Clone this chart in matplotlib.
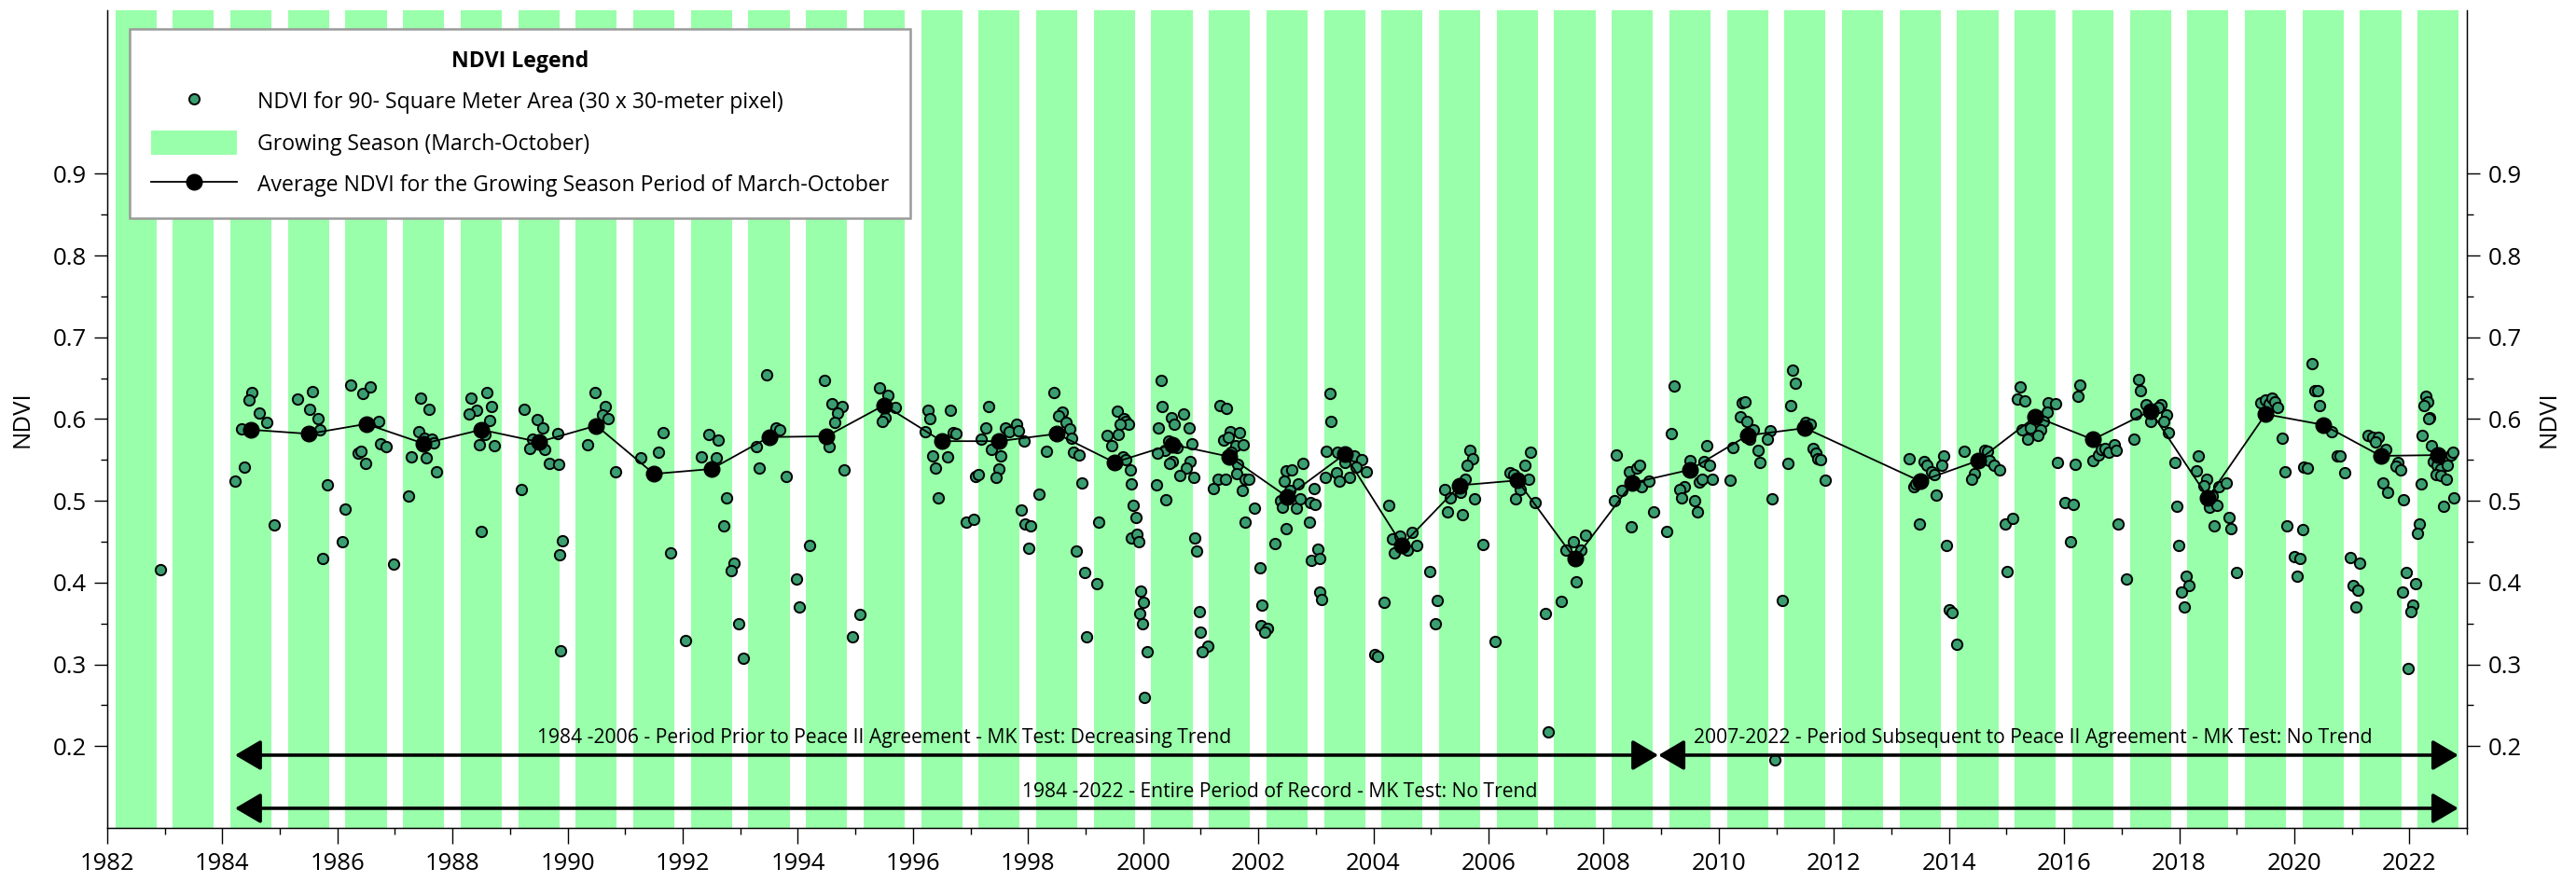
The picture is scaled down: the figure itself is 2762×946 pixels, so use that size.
import matplotlib
matplotlib.use("Agg")
import matplotlib.pyplot as plt
from matplotlib.lines import Line2D
from matplotlib.patches import Patch
from matplotlib.ticker import MultipleLocator, FixedLocator, FormatStrFormatter

plt.rcParams['font.family'] = ['Open Sans', 'DejaVu Sans']

# ---------------- data ----------------
band_years = list(range(1982, 2023))          # growing-season bands (March-October)

avg_year = [1984.5, 1985.5, 1986.5, 1987.5, 1988.5, 1989.5, 1990.5, 1991.5, 1992.5,
            1993.5, 1994.5, 1995.5, 1996.5, 1997.5, 1998.5, 1999.5, 2000.5, 2001.5,
            2002.5, 2003.5, 2004.5, 2005.5, 2006.5, 2007.5, 2008.5, 2009.5, 2010.5,
            2011.5, 2013.5, 2014.5, 2015.5, 2016.5, 2017.5, 2018.5, 2019.5, 2020.5,
            2021.5, 2022.5]
avg_ndvi = [0.587, 0.582, 0.594, 0.570, 0.587, 0.572, 0.592, 0.533, 0.539,
            0.578, 0.579, 0.617, 0.573, 0.573, 0.582, 0.547, 0.569, 0.554,
            0.505, 0.557, 0.446, 0.519, 0.525, 0.429, 0.522, 0.538, 0.580,
            0.589, 0.524, 0.549, 0.603, 0.575, 0.610, 0.504, 0.606, 0.593,
            0.555, 0.556]

obs_date = [
    1982.918,
    1984.512, 1984.468, 1984.647, 1984.771, 1984.333, 1984.387, 1984.220, 1984.906,
    1985.300, 1985.565, 1985.522, 1985.657, 1985.695, 1985.830, 1985.743,
    1986.229, 1986.440, 1986.575, 1986.710, 1986.743, 1986.840, 1986.359, 1986.408, 1986.489, 1986.138, 1986.089, 1986.969,
    1987.450, 1987.585, 1987.407, 1987.504, 1987.634, 1987.677, 1987.278, 1987.537, 1987.715, 1987.234,
    1988.326, 1988.590, 1988.417, 1988.282, 1988.682, 1988.639, 1988.563, 1988.461, 1988.725, 1988.504,
    1989.249, 1989.471, 1989.563, 1989.384, 1989.341, 1989.606, 1989.682, 1989.838, 1989.822, 1989.201, 1989.909, 1989.860, 1989.881,
    1990.476, 1990.654, 1990.605, 1990.697, 1990.346, 1990.827,
    1991.264, 1991.572, 1991.664, 1991.794,
    1992.053, 1992.453, 1992.620, 1992.318, 1992.582, 1992.755, 1992.706, 1992.885, 1992.842, 1992.972,
    1993.058, 1993.452, 1993.625, 1993.679, 1993.279, 1993.323, 1993.803, 1993.982,
    1994.025, 1994.203, 1994.462, 1994.598, 1994.776, 1994.684, 1994.635, 1994.549, 1994.808, 1994.943,
    1995.078, 1995.424, 1995.559, 1995.694, 1995.521, 1995.467,
    1996.261, 1996.299, 1996.650, 1996.213, 1996.704, 1996.747, 1996.348, 1996.607, 1996.391, 1996.440, 1996.920,
    1997.050, 1997.315, 1997.261, 1997.612, 1997.666, 1997.795, 1997.838, 1997.185, 1997.358, 1997.530, 1997.493, 1997.444, 1997.082, 1997.141, 1997.930, 1997.881, 1997.951,
    1998.043, 1998.011, 1998.184, 1998.448, 1998.589, 1998.524, 1998.664, 1998.724, 1998.756, 1998.789, 1998.886, 1998.319, 1998.929, 1998.843, 1998.978,
    1999.232, 1999.194, 1999.021, 1999.545, 1999.658, 1999.701, 1999.745, 1999.593, 1999.367, 1999.572, 1999.453, 1999.647, 1999.690, 1999.772, 1999.788, 1999.826, 1999.869, 1999.799, 1999.896, 1999.923, 1999.961, 1999.939, 1999.982,
    2000.004, 2000.074, 2000.026, 2000.306, 2000.333, 2000.485, 2000.539, 2000.706, 2000.793, 2000.263, 2000.841, 2000.447, 2000.582, 2000.382, 2000.247, 2000.501, 2000.452, 2000.820, 2000.749, 2000.641, 2000.879, 2000.231, 2000.398, 2000.895, 2000.922, 2000.971, 2000.987,
    2001.122, 2001.030, 2001.338, 2001.452, 2001.511, 2001.668, 2001.398, 2001.484, 2001.603, 2001.738, 2001.527, 2001.646, 2001.624, 2001.770, 2001.835, 2001.300, 2001.430, 2001.214, 2001.722, 2001.932, 2001.776,
    2002.024, 2002.068, 2002.040, 2002.154, 2002.105, 2002.284, 2002.489, 2002.586, 2002.770, 2002.456, 2002.694, 2002.543, 2002.381, 2002.413, 2002.656, 2002.726, 2002.483, 2002.970, 2002.905, 2002.986, 2002.894, 2002.927,
    2003.029, 2003.062, 2003.067, 2003.094, 2003.251, 2003.267, 2003.181, 2003.375, 2003.661, 2003.796, 2003.499, 2003.705, 2003.883, 2003.359, 2003.407, 2003.580, 2003.159,
    2004.023, 2004.066, 2004.185, 2004.272, 2004.326, 2004.461, 2004.677, 2004.364, 2004.596, 2004.758, 2004.974,
    2005.115, 2005.071, 2005.682, 2005.730, 2005.628, 2005.595, 2005.244, 2005.336, 2005.509, 2005.282, 2005.552, 2005.763, 2005.903,
    2006.119, 2006.730, 2006.638, 2006.692, 2006.373, 2006.433, 2006.557, 2006.476, 2006.816, 2006.994,
    2007.037, 2007.259, 2007.518, 2007.351, 2007.481, 2007.605, 2007.691,
    2008.221, 2008.442, 2008.572, 2008.626, 2008.313, 2008.183, 2008.658, 2008.793, 2008.485, 2008.874,
    2009.101, 2009.231, 2009.182, 2009.496, 2009.409, 2009.317, 2009.361, 2009.582, 2009.625, 2009.668, 2009.712, 2009.798, 2009.750, 2009.847, 2009.890,
    2010.192, 2010.241, 2010.409, 2010.463, 2010.371, 2010.495, 2010.597, 2010.538, 2010.679, 2010.722, 2010.900, 2010.851, 2010.932, 2010.981,
    2011.111, 2011.289, 2011.338, 2011.246, 2011.505, 2011.586, 2011.646, 2011.683, 2011.727, 2011.775, 2011.856, 2011.202,
    2013.309, 2013.563, 2013.617, 2013.698, 2013.747, 2013.396, 2013.428, 2013.785, 2013.482, 2013.914, 2013.877, 2013.963,
    2014.006, 2014.050, 2014.141, 2014.266, 2014.617, 2014.665, 2014.438, 2014.401, 2014.709, 2014.790, 2014.887, 2014.973,
    2015.098, 2015.016, 2015.233, 2015.184, 2015.319, 2015.724, 2015.848, 2015.713, 2015.638, 2015.276, 2015.411, 2015.589, 2015.541, 2015.362, 2015.886,
    2016.021, 2016.156, 2016.113, 2016.194, 2016.280, 2016.243, 2016.502, 2016.589, 2016.643, 2016.718, 2016.772, 2016.869, 2016.907, 2016.945,
    2017.075, 2017.296, 2017.334, 2017.242, 2017.210, 2017.420, 2017.680, 2017.637, 2017.777, 2017.723, 2017.512, 2017.815, 2017.922, 2017.960, 2017.992,
    2018.122, 2018.176, 2018.041, 2018.084, 2018.338, 2018.300, 2018.478, 2018.430, 2018.694, 2018.824, 2018.581, 2018.522, 2018.657, 2018.603, 2018.867, 2018.905,
    2019.002, 2019.424, 2019.505, 2019.559, 2019.613, 2019.656, 2019.705, 2019.786, 2019.834, 2019.877, 2019.996,
    2020.056, 2020.093, 2020.142, 2020.164, 2020.229, 2020.315, 2020.353, 2020.401, 2020.439, 2020.655, 2020.742, 2020.796, 2020.882, 2020.969,
    2021.141, 2021.023, 2021.104, 2021.061, 2021.277, 2021.358, 2021.450, 2021.406, 2021.595, 2021.800, 2021.763, 2021.844, 2021.547, 2021.622, 2021.898, 2021.936, 2021.887, 2021.984,
    2022.114, 2022.065, 2022.022, 2022.163, 2022.136, 2022.292, 2022.314, 2022.260, 2022.357, 2022.325, 2022.217, 2022.389, 2022.422, 2022.476, 2022.541, 2022.649, 2022.719, 2022.757, 2022.465, 2022.551, 2022.638, 2022.200, 2022.595, 2022.773,
]
obs_ndvi = [
    0.416,
    0.633, 0.623, 0.607, 0.596, 0.588, 0.541, 0.524, 0.471,
    0.624, 0.634, 0.612, 0.600, 0.587, 0.520, 0.429,
    0.642, 0.631, 0.639, 0.597, 0.570, 0.566, 0.558, 0.561, 0.546, 0.490, 0.450, 0.423,
    0.626, 0.612, 0.585, 0.577, 0.575, 0.571, 0.554, 0.553, 0.536, 0.506,
    0.626, 0.633, 0.611, 0.606, 0.615, 0.598, 0.581, 0.569, 0.567, 0.463,
    0.612, 0.599, 0.589, 0.575, 0.564, 0.563, 0.546, 0.545, 0.582, 0.514, 0.451, 0.434, 0.317,
    0.633, 0.615, 0.605, 0.600, 0.569, 0.536,
    0.553, 0.559, 0.584, 0.436,
    0.329, 0.581, 0.574, 0.554, 0.553, 0.504, 0.469, 0.424, 0.415, 0.350,
    0.308, 0.654, 0.589, 0.587, 0.566, 0.540, 0.530, 0.405,
    0.370, 0.445, 0.647, 0.619, 0.615, 0.607, 0.596, 0.566, 0.538, 0.334,
    0.361, 0.638, 0.629, 0.614, 0.602, 0.597,
    0.611, 0.601, 0.611, 0.585, 0.584, 0.582, 0.555, 0.554, 0.540, 0.504, 0.474,
    0.477, 0.615, 0.589, 0.589, 0.585, 0.594, 0.586, 0.576, 0.563, 0.555, 0.539, 0.529, 0.530, 0.532, 0.573, 0.489, 0.472,
    0.470, 0.442, 0.508, 0.632, 0.609, 0.604, 0.596, 0.588, 0.577, 0.560, 0.556, 0.561, 0.522, 0.439, 0.412,
    0.474, 0.399, 0.334, 0.610, 0.601, 0.597, 0.594, 0.594, 0.580, 0.581, 0.568, 0.554, 0.550, 0.538, 0.521, 0.494, 0.480, 0.455, 0.459, 0.450, 0.390, 0.362, 0.350,
    0.376, 0.315, 0.260, 0.647, 0.615, 0.602, 0.594, 0.606, 0.589, 0.589, 0.570, 0.573, 0.565, 0.562, 0.558, 0.548, 0.546, 0.548, 0.540, 0.531, 0.529, 0.520, 0.501, 0.455, 0.439, 0.364, 0.340,
    0.322, 0.315, 0.617, 0.613, 0.585, 0.584, 0.574, 0.578, 0.568, 0.569, 0.560, 0.545, 0.533, 0.526, 0.526, 0.527, 0.526, 0.515, 0.513, 0.491, 0.474,
    0.418, 0.373, 0.347, 0.344, 0.339, 0.448, 0.537, 0.538, 0.546, 0.524, 0.521, 0.513, 0.500, 0.492, 0.491, 0.502, 0.466, 0.515, 0.498, 0.496, 0.474, 0.427,
    0.441, 0.430, 0.389, 0.379, 0.631, 0.597, 0.561, 0.559, 0.555, 0.550, 0.547, 0.541, 0.536, 0.534, 0.524, 0.529, 0.529,
    0.312, 0.310, 0.376, 0.495, 0.454, 0.457, 0.461, 0.436, 0.440, 0.445, 0.413,
    0.378, 0.350, 0.562, 0.552, 0.544, 0.526, 0.514, 0.504, 0.511, 0.487, 0.483, 0.502, 0.447,
    0.328, 0.560, 0.543, 0.526, 0.534, 0.532, 0.514, 0.502, 0.498, 0.362,
    0.218, 0.377, 0.401, 0.440, 0.450, 0.440, 0.458,
    0.556, 0.535, 0.540, 0.543, 0.513, 0.500, 0.517, 0.524, 0.468, 0.487,
    0.463, 0.641, 0.582, 0.549, 0.517, 0.514, 0.504, 0.500, 0.486, 0.523, 0.526, 0.567, 0.548, 0.543, 0.527,
    0.525, 0.565, 0.620, 0.621, 0.603, 0.597, 0.587, 0.575, 0.562, 0.547, 0.586, 0.575, 0.503, 0.183,
    0.378, 0.660, 0.644, 0.616, 0.596, 0.594, 0.564, 0.558, 0.552, 0.550, 0.525, 0.546,
    0.551, 0.548, 0.543, 0.535, 0.532, 0.517, 0.521, 0.507, 0.472, 0.555, 0.544, 0.445,
    0.367, 0.363, 0.325, 0.561, 0.562, 0.561, 0.533, 0.527, 0.549, 0.543, 0.538, 0.472,
    0.479, 0.414, 0.639, 0.625, 0.622, 0.620, 0.619, 0.609, 0.597, 0.587, 0.589, 0.587, 0.580, 0.575, 0.547,
    0.498, 0.496, 0.450, 0.545, 0.642, 0.628, 0.549, 0.556, 0.563, 0.564, 0.559, 0.569, 0.562, 0.472,
    0.405, 0.649, 0.635, 0.606, 0.575, 0.618, 0.618, 0.614, 0.605, 0.597, 0.597, 0.584, 0.547, 0.493, 0.446,
    0.408, 0.396, 0.389, 0.370, 0.555, 0.537, 0.527, 0.518, 0.517, 0.522, 0.506, 0.492, 0.494, 0.470, 0.480, 0.466,
    0.412, 0.620, 0.623, 0.619, 0.626, 0.621, 0.614, 0.577, 0.535, 0.469, 0.432,
    0.408, 0.430, 0.465, 0.541, 0.540, 0.668, 0.635, 0.635, 0.617, 0.585, 0.555, 0.555, 0.534, 0.431,
    0.424, 0.397, 0.391, 0.370, 0.580, 0.578, 0.578, 0.572, 0.563, 0.547, 0.542, 0.538, 0.522, 0.511, 0.501, 0.412, 0.388, 0.295,
    0.399, 0.373, 0.364, 0.472, 0.460, 0.628, 0.621, 0.617, 0.602, 0.601, 0.580, 0.567, 0.548, 0.544, 0.539, 0.544, 0.556, 0.560, 0.532, 0.531, 0.527, 0.521, 0.493, 0.504,
]

x_ticks = list(range(1982, 2023, 2))
y_ticks = [0.2, 0.3, 0.4, 0.5, 0.6, 0.7, 0.8, 0.9]
y_minor = [0.25, 0.35, 0.45, 0.55, 0.65, 0.75, 0.85]

period_start, period_split, period_end = 1984.22, 2008.95, 2022.85
ann_texts = ["1984 -2006 - Period Prior to Peace II Agreement - MK Test: Decreasing Trend",
             "2007-2022 - Period Subsequent to Peace II Agreement - MK Test: No Trend",
             "1984 -2022 - Entire Period of Record - MK Test: No Trend"]

legend_labels = ["NDVI for 90- Square Meter Area (30 x 30-meter pixel)",
                 "Growing Season (March-October)",
                 "Average NDVI for the Growing Season Period of March-October"]

# ---------------- style ----------------
BAND = '#99FFAA'
DOT = '#3A9E70'
FS = 18.5
LFS = 16.6
AFS = 15.2

fig = plt.figure(figsize=(27.62, 9.46), dpi=100)
ax = fig.add_axes([0.0416, 0.0613, 0.9161, 0.9271])

for y in band_years:
    ax.axvspan(y + 0.14, y + 0.855, color=BAND, lw=0, zorder=0)

ax.scatter(obs_date, obs_ndvi, s=66, c=DOT, edgecolors='black', linewidths=1.4, zorder=3)
ax.plot(avg_year, avg_ndvi, color='black', lw=1.3, marker='o', ms=12, zorder=4)

arrow_kw = dict(arrowstyle='<|-|>,head_length=0.85,head_width=0.5', color='black', lw=2.6,
                shrinkA=0, shrinkB=0, mutation_scale=20)
y_up, y_low = 0.189, 0.124
ax.annotate('', xy=(period_split, y_up), xytext=(period_start, y_up), arrowprops=arrow_kw, zorder=5)
ax.annotate('', xy=(period_end, y_up), xytext=(period_split, y_up), arrowprops=arrow_kw, zorder=5)
ax.annotate('', xy=(period_end, y_low), xytext=(period_start, y_low), arrowprops=arrow_kw, zorder=5)

ax.text(1995.50, 0.2035, ann_texts[0], ha='center', va='baseline', fontsize=AFS, zorder=6)
ax.text(2015.46, 0.2035, ann_texts[1], ha='center', va='baseline', fontsize=AFS, zorder=6)
ax.text(2002.38, 0.1375, ann_texts[2], ha='center', va='baseline', fontsize=AFS, zorder=6)

ax.set_xlim(1982, 2023)
ax.set_ylim(0.1, 1.1)
ax.set_xticks(x_ticks)
ax.xaxis.set_minor_locator(MultipleLocator(1))
ax.yaxis.set_major_locator(FixedLocator(y_ticks))
ax.yaxis.set_minor_locator(FixedLocator(y_minor))
ax.yaxis.set_major_formatter(FormatStrFormatter('%.1f'))
ax.tick_params(axis='x', which='major', length=12, width=1, labelsize=FS, pad=7, direction='out')
ax.tick_params(axis='x', which='minor', length=5, width=1, direction='out')
ax.tick_params(axis='y', which='major', length=10, width=1, labelsize=FS, pad=6, direction='out')
ax.tick_params(axis='y', which='minor', length=5, width=1, direction='out')
ax.set_ylabel('NDVI', fontsize=FS, labelpad=14)
ax.spines['top'].set_visible(False)
for side in ['left', 'bottom', 'right']:
    ax.spines[side].set_linewidth(1.0)

ax2 = ax.twinx()
ax2.set_ylim(0.1, 1.1)
ax2.yaxis.set_major_locator(FixedLocator(y_ticks))
ax2.yaxis.set_minor_locator(FixedLocator(y_minor))
ax2.yaxis.set_major_formatter(FormatStrFormatter('%.1f'))
ax2.tick_params(axis='y', which='major', length=10, width=1, labelsize=FS, pad=6)
ax2.tick_params(axis='y', which='minor', length=5, width=1)
ax2.set_ylabel('NDVI', fontsize=FS, labelpad=12)
ax2.spines['top'].set_visible(False)

handles = [Line2D([], [], ls='none', marker='o', ms=8, mfc=DOT, mec='black', mew=1.4),
           Patch(facecolor=BAND, edgecolor='none'),
           Line2D([], [], color='black', lw=1.3, marker='o', ms=12)]
leg = ax.legend(handles, legend_labels, loc='upper left', bbox_to_anchor=(0.0095, 0.977),
                borderaxespad=0, fontsize=LFS, title='NDVI Legend',
                title_fontproperties={'weight': 'bold', 'size': LFS},
                frameon=True, fancybox=False, edgecolor='#9a9a9a', framealpha=1,
                borderpad=1.0, labelspacing=0.78, handlelength=4.0, handleheight=1.3,
                handletextpad=0.95)
leg.get_frame().set_linewidth(1.8)
leg.set_zorder(10)

fig.savefig('out.png', dpi=100)
